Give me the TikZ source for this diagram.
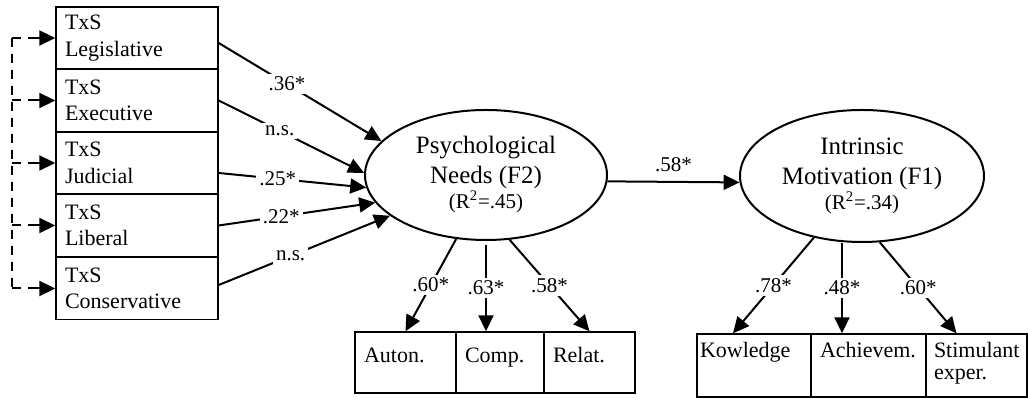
\documentclass[tikz,border=0pt]{standalone}
\usepackage{fontspec}
\setmainfont{Liberation Serif}
\usetikzlibrary{arrows.meta,positioning,shapes.geometric}

\begin{document}
\begin{tikzpicture}[
  x=0.5pt, y=-0.5pt,
  font=\fontsize{11}{13.3}\selectfont,
  indbox/.style={draw, line width=0.7pt, align=left, text width=72pt, inner xsep=4.5pt, inner ysep=0pt, minimum height=31pt},
  itembox/.style={draw, line width=0.7pt, align=left, inner xsep=4.5pt, inner ysep=0pt, text height=7.7pt, text depth=#1},
  latent/.style={draw, ellipse, line width=1pt, inner sep=0pt, minimum width=121pt, minimum height=65pt, align=center, font=\fontsize{12.5}{15}\selectfont},
  arr/.style={-{Triangle[length=8pt,width=7.5pt]}, line width=1pt},
  dsh/.style={dash pattern=on 4.5pt off 3.5pt, line width=1pt},
  coef/.style={fill=white, inner sep=1.5pt, font=\fontsize{10.5}{12}\selectfont}
]
\useasboundingbox (0,0) rectangle (1028,399);

% predictors
\node[indbox] (leg) at (137,38)    {TxS\\Legislative};
\node[indbox] (exe) at (137,100.5) {TxS\\Executive};
\node[indbox] (jud) at (137,163)   {TxS\\Judicial};
\node[indbox] (lib) at (137,225.5) {TxS\\Liberal};
\node[indbox] (con) at (137,288.5) {TxS\\Conservative};

% latent factors
\node[latent] (F2) at (486,175) {Psychological\\Needs (F2)\\[-2.5pt]{\fontsize{10.5}{12.5}\selectfont (R\textsuperscript{2}=.45)}};
\node[latent, minimum width=122pt, minimum height=66pt] (F1) at (862,176) {Intrinsic\\Motivation (F1)\\[-2.5pt]{\fontsize{10.5}{12.5}\selectfont (R\textsuperscript{2}=.34)}};

% indicators
\node[itembox=7.2pt, text width=41.5pt, minimum height=30.5pt] (aut) at (405.5,362.5) {Auton.};
\node[itembox=7.2pt, text width=35pt, minimum height=30.5pt]   (comp) at (500,362.5) {Comp.};
\node[itembox=7.2pt, text width=36.5pt, minimum height=30.5pt] (rel) at (589.5,362.5) {Relat.};
\node[itembox=15.5pt, text width=54pt, inner xsep=1.5pt, minimum height=31.5pt] (kno) at (754,365.5) {Kowledge};
\node[itembox=15.5pt, text width=48.5pt, minimum height=31.5pt] (ach) at (868.5,365.5) {Achievem.};
\node[itembox=15.5pt, text width=42.5pt, inner xsep=4pt, minimum height=31.5pt, font=\fontsize{11}{11}\selectfont] (sti) at (976.5,365.5) {Stimulant\\exper.};

% correlated predictors
\coordinate (brk) at (12,0);
\draw[dsh] (brk |- leg.west) -- (brk |- con.west);
\foreach \n in {leg,exe,jud,lib,con} {
  \draw[dsh] (brk |- \n.west) -- ([xshift=-8pt]\n.west);
  \draw[arr] ([xshift=-9pt]\n.west) -- (\n.west);
}

% structural paths
\draw[arr] ([yshift=-2.5pt]leg.east) -- node[coef, pos=.42] {.36*} (F2.162);
\draw[arr] (exe.east) -- node[coef, pos=.42] {n.s.} (F2.179);
\draw[arr] ([yshift=-5pt]jud.east) -- node[coef, pos=.4] {.25*} (F2.186);
\draw[arr] (lib.east) -- node[coef, pos=.4] {.22*} (F2.194);
\draw[arr] ([yshift=1.75pt]con.east) -- node[coef, pos=.42] {n.s.} (F2.203);
\draw[arr] (F2.-3) -- node[coef, above=3pt] {.58*} (F1.183);

% loadings
\draw[arr] (F2.245) -- node[coef] {.60*} (aut.north);
\draw[arr] ([yshift=-2pt]F2.south) -- node[coef] {.63*} (F2.south |- comp.north);
\draw[arr] (F2.290) -- node[coef] {.58*} (rel.north);
\draw[arr] (F1.232) -- node[coef] {.78*} ([xshift=-10.5pt]kno.north);
\draw[arr] ([xshift=-10pt]F1.south) -- node[coef] {.48*} ([xshift=-10pt]F1.south |- ach.north);
\draw[arr] (F1.285) -- node[coef] {.60*} ([xshift=-10pt]sti.north);
\end{tikzpicture}
\end{document}
